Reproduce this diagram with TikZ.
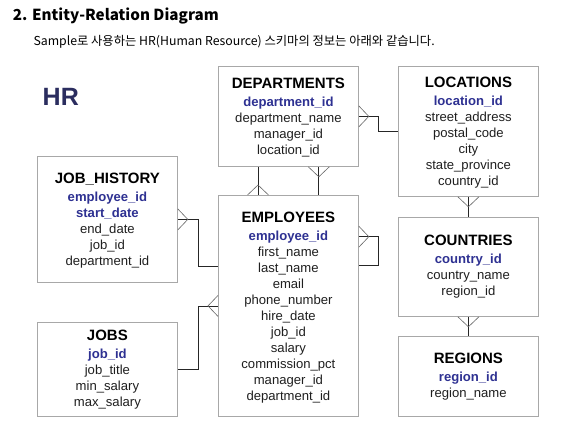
\documentclass[tikz,border=0pt]{standalone}
\usepackage{fontspec}
\setmainfont{Liberation Sans}
\newfontfamily\krfont{Noto Sans CJK KR}
\usetikzlibrary{calc}
\definecolor{keyblue}{HTML}{2E3192}
\definecolor{hrnavy}{HTML}{2B2D5F}
\definecolor{boxgray}{HTML}{A8A8A8}
\tikzset{
  entity/.style={draw=boxgray, line width=0.8pt, anchor=north west, inner sep=0pt, minimum width=140pt},
  etext/.style={anchor=north, align=center, inner sep=0pt, font=\fontsize{13.1}{16}\selectfont, text=black!88},
  conn/.style={draw=black!85, line width=0.7pt},
  crow/.style={draw=black!60, line width=0.6pt},
  crowfoot/.pic={\draw[crow] (0,10.5) -- (10,0) -- (0,-10.5);}
}
\newcommand{\ttl}[1]{{\fontsize{15}{16}\selectfont\bfseries\color{black}#1}\\[1.5pt]}
\newcommand{\keyf}[1]{{\bfseries\color{keyblue}#1}}
\begin{document}
\begin{tikzpicture}[x=1pt,y=1pt]
\useasboundingbox (0,0) rectangle (561,-434);
\fill[white] (0,0) rectangle (561,-434);
% heading
\node[anchor=base west, inner sep=0pt, font=\krfont\bfseries\fontsize{15.2}{18}\selectfont] (hd) at (12.7,-20.7) {2. Entity-Relation Diagram};
\node[anchor=base west, inner sep=0pt, font=\krfont\fontsize{12.3}{14}\selectfont] (sub) at (33.3,-45) {Sample로 사용하는 HR(Human Resource) 스키마의 정보는 아래와 같습니다.};
\node[anchor=base west, inner sep=0pt, font=\fontsize{25}{25}\selectfont\bfseries, text=hrnavy] (hr) at (42.5,-105) {HR};
% entities
\node[entity, minimum height=100pt] (dep) at (218,-66) {};
\node[entity, minimum height=130pt] (loc) at (398,-66) {};
\node[entity, minimum height=99pt] (cou) at (398,-217) {};
\node[entity, minimum height=80pt] (reg) at (398,-336) {};
\node[entity, minimum height=126pt] (jh) at (37,-156) {};
\node[entity, minimum height=94pt] (jobs) at (37,-322) {};
\node[entity, minimum height=221pt] (emp) at (218,-195) {};
% texts
\node[etext] (dep-t) at ($(dep.north)+(0,-11.9)$) {\ttl{DEPARTMENTS}\keyf{department\_id}\\department\_name\\manager\_id\\location\_id};
\node[etext] (loc-t) at ($(loc.north)+(0,-11.3)$) {\ttl{LOCATIONS}\keyf{location\_id}\\street\_address\\postal\_code\\city\\state\_province\\country\_id};
\node[etext] (cou-t) at ($(cou.north)+(0,-18.3)$) {\ttl{COUNTRIES}\keyf{country\_id}\\country\_name\\region\_id};
\node[etext] (reg-t) at ($(reg.north)+(0,-16.9)$) {\ttl{REGIONS}\keyf{region\_id}\\region\_name};
\node[etext] (jh-t) at ($(jh.north)+(0,-17.3)$) {\ttl{JOB\_HISTORY}\keyf{employee\_id}\\\keyf{start\_date}\\end\_date\\job\_id\\department\_id};
\node[etext] (jobs-t) at ($(jobs.north)+(0,-8.3)$) {\ttl{JOBS}\keyf{job\_id}\\job\_title\\min\_salary\\max\_salary};
\node[etext] (emp-t) at ($(emp.north)+(0,-16.9)$) {\ttl{EMPLOYEES}\keyf{employee\_id}\\first\_name\\last\_name\\email\\phone\_number\\hire\_date\\job\_id\\salary\\commission\_pct\\manager\_id\\department\_id};
% connectors
\draw[conn] (dep.east) -- ++(20,0) |- (loc.west);
\pic at (dep.east) {crowfoot};
\draw[conn] ($(dep.south west)+(40,0)$) -- ($(emp.north west)+(40,0)$);
\pic[rotate=90] at ($(emp.north west)+(40,0)$) {crowfoot};
\draw[conn] ($(dep.south east)+(-40,0)$) -- ($(emp.north east)+(-40,0)$);
\pic[rotate=-90] at ($(dep.south east)+(-40,0)$) {crowfoot};
\draw[conn] (loc.south) -- (cou.north);
\pic[rotate=-90] at (loc.south) {crowfoot};
\draw[conn] (cou.south) -- (reg.north);
\pic[rotate=-90] at (cou.south) {crowfoot};
\draw[conn] (jh.east) -- ++(20.7,0) |- ($(emp.west)+(0,40)$);
\pic at (jh.east) {crowfoot};
\draw[conn] (jobs.east) -- ++(20.7,0) |- (emp.west);
\pic[rotate=180] at (emp.west) {crowfoot};
\coordinate (selfa) at ($(emp.north east)+(0,-41.7)$);
\coordinate (selfb) at ($(emp.north east)+(0,-70)$);
\draw[conn] (selfa) -- ++(20,0) |- (selfb);
\pic at (selfa) {crowfoot};
\end{tikzpicture}
\end{document}
